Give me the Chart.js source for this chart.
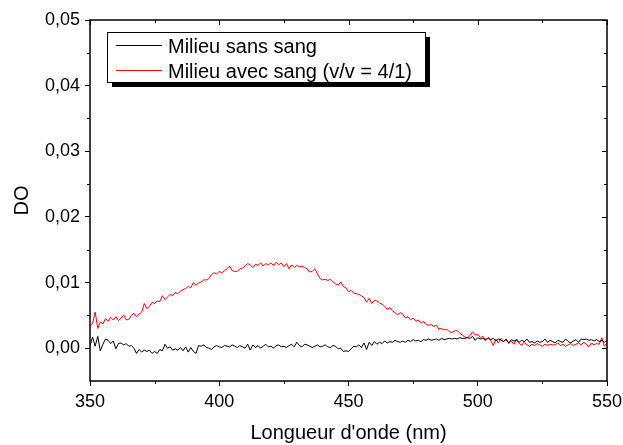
<!DOCTYPE html>
<html>
<head>
<meta charset="utf-8">
<script src="https://cdn.jsdelivr.net/npm/chart.js@4/dist/chart.umd.min.js"></script>
<style>
  body { margin: 0; background: #fff; }
  #c { display: block; }
</style>
</head>
<body>
<canvas id="c" width="623" height="445"></canvas>
<script>
// spectre mesuré tous les 1 nm, de 350 à 550 nm
const startNm = 350;
const stepNm = 1;

const seriesNames = ['Milieu sans sang', 'Milieu avec sang (v/v = 4/1)'];

const sansSang = [
  0.0003, 0.0017, 0.0003, 0.0018, -0.0004, 0.0006, 0.0014, 0.0012, 0.0007, 0.0011,
  -0.0001, 0.0007, 0.0008, 0.0005, 0.0007, 0.0003, 0.0004, 0.0000, -0.0008, -0.0002,
  -0.0006, -0.0003, -0.0005, -0.0003, -0.0008, -0.0005, -0.0008, -0.0002, -0.0004, 0.0006,
  0.0000, 0.0002, -0.0003, -0.0001, -0.0003, 0.0001, -0.0004, 0.0002, -0.0006, 0.0001,
  -0.0005, -0.0008, 0.0004, 0.0003, 0.0005, 0.0001, 0.0000, -0.0002, 0.0002, 0.0004,
  0.0002, 0.0001, 0.0004, 0.0003, 0.0002, 0.0005, 0.0003, 0.0001, 0.0004, 0.0002,
  0.0000, 0.0006, -0.0003, 0.0005, 0.0001, 0.0004, 0.0000, 0.0003, 0.0006, 0.0002,
  0.0003, 0.0000, 0.0004, 0.0005, 0.0002, 0.0003, 0.0001, 0.0004, 0.0006, 0.0002,
  0.0009, 0.0004, 0.0002, 0.0006, 0.0005, 0.0003, 0.0001, 0.0003, 0.0005, 0.0002,
  0.0003, 0.0005, 0.0002, 0.0001, 0.0004, 0.0003, -0.0001, 0.0000, -0.0005, -0.0004,
  -0.0005, -0.0001, 0.0003, 0.0002, 0.0005, 0.0001, 0.0008, -0.0002, 0.0009, 0.0004,
  0.0010, 0.0006, 0.0009, 0.0007, 0.0011, 0.0008, 0.0010, 0.0009, 0.0012, 0.0010,
  0.0009, 0.0011, 0.0009, 0.0012, 0.0010, 0.0013, 0.0011, 0.0012, 0.0010, 0.0013,
  0.0012, 0.0014, 0.0012, 0.0013, 0.0014, 0.0012, 0.0015, 0.0013, 0.0014, 0.0015,
  0.0014, 0.0015, 0.0014, 0.0016, 0.0015, 0.0015, 0.0016, 0.0015, 0.0018, 0.0012,
  0.0016, 0.0014, 0.0015, 0.0012, 0.0016, 0.0013, 0.0015, 0.0011, 0.0014, 0.0012,
  0.0010, 0.0014, 0.0008, 0.0013, 0.0011, 0.0012, 0.0009, 0.0012, 0.0010, 0.0014,
  0.0009, 0.0010, 0.0008, 0.0011, 0.0009, 0.0010, 0.0014, 0.0009, 0.0012, 0.0010,
  0.0008, 0.0012, 0.0010, 0.0009, 0.0014, 0.0010, 0.0008, 0.0011, 0.0013, 0.0009,
  0.0014, 0.0013, 0.0014, 0.0012, 0.0013, 0.0011, 0.0013, 0.0010, 0.0012, 0.0009,
  0.0012
];

const avecSang = [
  0.0034, 0.0038, 0.0055, 0.0030, 0.0040, 0.0037, 0.0045, 0.0041, 0.0047, 0.0043,
  0.0048, 0.0042, 0.0046, 0.0050, 0.0043, 0.0044, 0.0050, 0.0053, 0.0048, 0.0052,
  0.0055, 0.0068, 0.0060, 0.0064, 0.0070, 0.0068, 0.0072, 0.0071, 0.0080, 0.0074,
  0.0078, 0.0082, 0.0080, 0.0085, 0.0083, 0.0087, 0.0089, 0.0091, 0.0094, 0.0092,
  0.0100, 0.0096, 0.0099, 0.0101, 0.0104, 0.0104, 0.0106, 0.0112, 0.0115, 0.0113,
  0.0117, 0.0115, 0.0118, 0.0121, 0.0125, 0.0118, 0.0117, 0.0117, 0.0121, 0.0122,
  0.0125, 0.0129, 0.0127, 0.0123, 0.0128, 0.0126, 0.0130, 0.0125, 0.0129, 0.0127,
  0.0130, 0.0126, 0.0131, 0.0127, 0.0130, 0.0124, 0.0129, 0.0121, 0.0127, 0.0123,
  0.0126, 0.0124, 0.0125, 0.0123, 0.0121, 0.0116, 0.0117, 0.0121, 0.0113, 0.0106,
  0.0104, 0.0105, 0.0103, 0.0105, 0.0101, 0.0098, 0.0096, 0.0101, 0.0094, 0.0092,
  0.0086, 0.0088, 0.0084, 0.0083, 0.0082, 0.0080, 0.0077, 0.0070, 0.0076, 0.0068,
  0.0073, 0.0072, 0.0069, 0.0067, 0.0064, 0.0059, 0.0062, 0.0057, 0.0054, 0.0051,
  0.0054, 0.0052, 0.0046, 0.0048, 0.0043, 0.0046, 0.0041, 0.0043, 0.0038, 0.0041,
  0.0036, 0.0035, 0.0036, 0.0033, 0.0035, 0.0029, 0.0030, 0.0028, 0.0029, 0.0025,
  0.0024, 0.0026, 0.0027, 0.0023, 0.0020, 0.0017, 0.0016, 0.0019, 0.0025, 0.0020,
  0.0021, 0.0016, 0.0018, 0.0013, 0.0015, 0.0012, 0.0004, 0.0014, 0.0008, 0.0015,
  0.0010, 0.0013, 0.0007, 0.0011, 0.0006, 0.0014, 0.0008, 0.0004, 0.0010, 0.0005,
  0.0003, 0.0006, 0.0004, 0.0007, 0.0005, 0.0003, 0.0006, 0.0004, 0.0006, 0.0005,
  0.0005, 0.0008, 0.0004, 0.0006, 0.0003, 0.0005, 0.0007, 0.0004, 0.0006, 0.0008,
  0.0005, 0.0009, 0.0006, 0.0002, 0.0008, 0.0005, 0.0007, 0.0006, 0.0016, 0.0003,
  0.0008
];

const xTicks = [350, 400, 450, 500, 550];
const yTicks = [0.00, 0.01, 0.02, 0.03, 0.04, 0.05];

const toPoints = (arr) => arr.map((v, i) => ({ x: startNm + i * stepNm, y: v }));
const fmtDO = (v) => v.toFixed(2).replace('.', ',');

// cadre complet + graduations secondaires + ticks vers l'intérieur en haut / à droite
const frameTicks = {
  id: 'frameTicks',
  afterDraw(chart) {
    const { ctx, chartArea: a } = chart;
    const xs = chart.scales.x, ys = chart.scales.y;
    ctx.save();
    ctx.strokeStyle = '#000';
    ctx.lineWidth = 1.5;
    ctx.strokeRect(a.left, a.top, a.right - a.left, a.bottom - a.top);
    ctx.lineWidth = 1;
    ctx.beginPath();
    for (let i = 0; i < xTicks.length; i++) {
      const px = Math.round(xs.getPixelForValue(xTicks[i])) + 0.5;
      ctx.moveTo(px, a.top); ctx.lineTo(px, a.top + 5);
      if (i < xTicks.length - 1) {
        const mx = Math.round(xs.getPixelForValue((xTicks[i] + xTicks[i + 1]) / 2)) + 0.5;
        ctx.moveTo(mx, a.bottom); ctx.lineTo(mx, a.bottom + 3);
        ctx.moveTo(mx, a.top); ctx.lineTo(mx, a.top + 3);
      }
    }
    const yAll = [-0.005].concat(yTicks);
    for (let i = 0; i < yAll.length; i++) {
      const py = Math.round(ys.getPixelForValue(yAll[i])) + 0.5;
      if (i > 0) { ctx.moveTo(a.right, py); ctx.lineTo(a.right - 5, py); }
      if (i < yAll.length - 1 && i > 0) {
        const my = Math.round(ys.getPixelForValue((yAll[i] + yAll[i + 1]) / 2)) + 0.5;
        ctx.moveTo(a.left, my); ctx.lineTo(a.left - 3, my);
        ctx.moveTo(a.right, my); ctx.lineTo(a.right - 3, my);
      }
    }
    ctx.stroke();
    ctx.restore();
  }
};

// légende encadrée avec ombre, style Origin
const shadowLegend = {
  id: 'shadowLegend',
  afterDraw(chart) {
    const { ctx, chartArea: a } = chart;
    const x = a.left + 17, y = a.top + 12, w = 318, h = 50;
    ctx.save();
    ctx.fillStyle = '#000';
    ctx.fillRect(x + 5, y + 5, w, h);
    ctx.fillStyle = '#fff';
    ctx.fillRect(x, y, w, h);
    ctx.strokeStyle = '#000';
    ctx.lineWidth = 1;
    ctx.strokeRect(x + 0.5, y + 0.5, w, h);
    ctx.font = '20px "Liberation Sans", Arial, sans-serif';
    ctx.textBaseline = 'alphabetic';
    chart.data.datasets.forEach((ds, i) => {
      const ly = y + 13.5 + 25 * i;
      ctx.strokeStyle = ds.borderColor;
      ctx.beginPath();
      ctx.moveTo(x + 9, ly); ctx.lineTo(x + 55, ly);
      ctx.stroke();
      ctx.fillStyle = '#000';
      ctx.fillText(ds.label, x + 61, ly + 7);
    });
    ctx.restore();
  }
};

new Chart(document.getElementById('c'), {
  type: 'line',
  data: {
    datasets: [
      { label: seriesNames[0], data: toPoints(sansSang), borderColor: '#000', borderWidth: 1 },
      { label: seriesNames[1], data: toPoints(avecSang), borderColor: '#ff0000', borderWidth: 1 }
    ]
  },
  options: {
    responsive: false,
    devicePixelRatio: 1,
    animation: false,
    layout: { padding: { top: 20, right: 16, left: 0, bottom: 0 } },
    elements: { point: { radius: 0 }, line: { tension: 0 } },
    plugins: { legend: { display: false }, tooltip: { enabled: false } },
    scales: {
      x: {
        type: 'linear',
        min: 350, max: 550,
        afterFit: (s) => { s.height = 64; s.paddingRight = 0; s.paddingLeft = 0; },
        afterBuildTicks: (s) => { s.ticks = xTicks.map(v => ({ value: v })); },
        grid: { drawOnChartArea: false, tickLength: 5, color: '#000', lineWidth: 1 },
        border: { display: false },
        ticks: { color: '#000', font: { family: '"Liberation Sans", Arial', size: 18 }, padding: 5, maxRotation: 0 },
        title: { display: true, text: "Longueur d'onde (nm)", color: '#000',
                 font: { family: '"Liberation Sans", Arial', size: 20 }, padding: { top: 0, bottom: 0 } }
      },
      y: {
        min: -0.005, max: 0.05,
        afterFit: (s) => { s.width = 90; },
        afterBuildTicks: (s) => { s.ticks = yTicks.map(v => ({ value: v })); },
        grid: { drawOnChartArea: false, tickLength: 5, color: '#000', lineWidth: 1 },
        border: { display: false },
        ticks: { color: '#000', font: { family: '"Liberation Sans", Arial', size: 18 }, padding: 5,
                 callback: (v) => fmtDO(v) },
        title: { display: true, text: 'DO', color: '#000',
                 font: { family: '"Liberation Sans", Arial', size: 20 }, padding: { top: 10, bottom: 0 } }
      }
    }
  },
  plugins: [frameTicks, shadowLegend]
});
</script>
</body>
</html>
